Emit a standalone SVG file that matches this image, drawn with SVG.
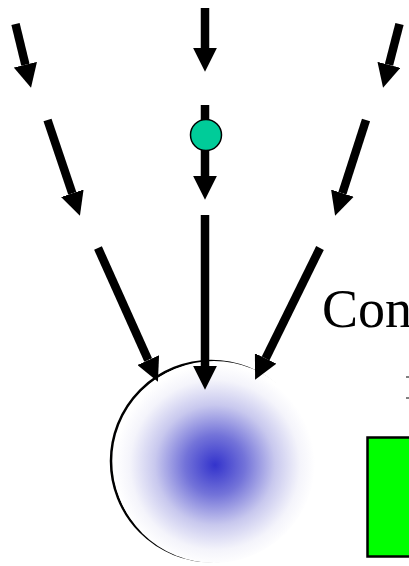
<svg xmlns="http://www.w3.org/2000/svg" width="409" height="566" viewBox="0 0 409 566">
<style>
.arr{stroke:#000;stroke-width:8.5;fill:none;marker-end:url(#head)}
.lbl{font-family:"Liberation Serif","Times New Roman",serif;font-size:54px;fill:#000}
</style>
<defs>
<marker id="head" viewBox="0 0 10 10" refX="0" refY="5" markerWidth="2.8" markerHeight="2.8" orient="auto">
<path d="M0,0 L10,5 L0,10 Z" fill="#000"/>
</marker>
<radialGradient id="blob" cx="215" cy="465" r="100" gradientUnits="userSpaceOnUse">
<stop offset="0" stop-color="#3333cc"/>
<stop offset="0.3" stop-color="#7373d9"/>
<stop offset="0.6" stop-color="#c8c8ee"/>
<stop offset="0.85" stop-color="#f4f4fb"/>
<stop offset="1" stop-color="#ffffff"/>
</radialGradient>
</defs>
<rect width="409" height="566" fill="#fff"/>
<g id="sphere">
<circle cx="211" cy="461" r="100" fill="none" stroke="#000" stroke-width="2.5"/>
<circle cx="214" cy="462" r="101" fill="url(#blob)"/>
</g>
<g id="connectors">
<line class="arr" x1="15.5" y1="24" x2="25.4" y2="64.7"/>
<line class="arr" x1="47.5" y1="120" x2="72.3" y2="193.3"/>
<line class="arr" x1="98" y1="248" x2="148.2" y2="360.1"/>
<line class="arr" x1="205" y1="8" x2="205" y2="48"/>
<line class="arr" x1="205" y1="105" x2="205" y2="176"/>
<line class="arr" x1="205" y1="215" x2="205" y2="366"/>
<line class="arr" x1="399.5" y1="24" x2="389" y2="64.8"/>
<line class="arr" x1="366" y1="120" x2="342.4" y2="193.2"/>
<line class="arr" x1="320" y1="248" x2="265.6" y2="358.5"/>
</g>
<g id="particle">
<circle cx="206" cy="135" r="15.5" fill="#00cc99" stroke="#000" stroke-width="1.5"/>
</g>
<g id="label">
<text class="lbl" x="322" y="327">Con</text>
<line x1="406" y1="377" x2="409" y2="377" stroke="#000" stroke-width="1"/>
<line x1="406" y1="398" x2="409" y2="398" stroke="#000" stroke-width="1"/>
</g>
<g id="bar">
<rect x="367.5" y="437.5" width="50" height="119" fill="#00ff00" stroke="#000" stroke-width="2.5"/>
</g>
</svg>
